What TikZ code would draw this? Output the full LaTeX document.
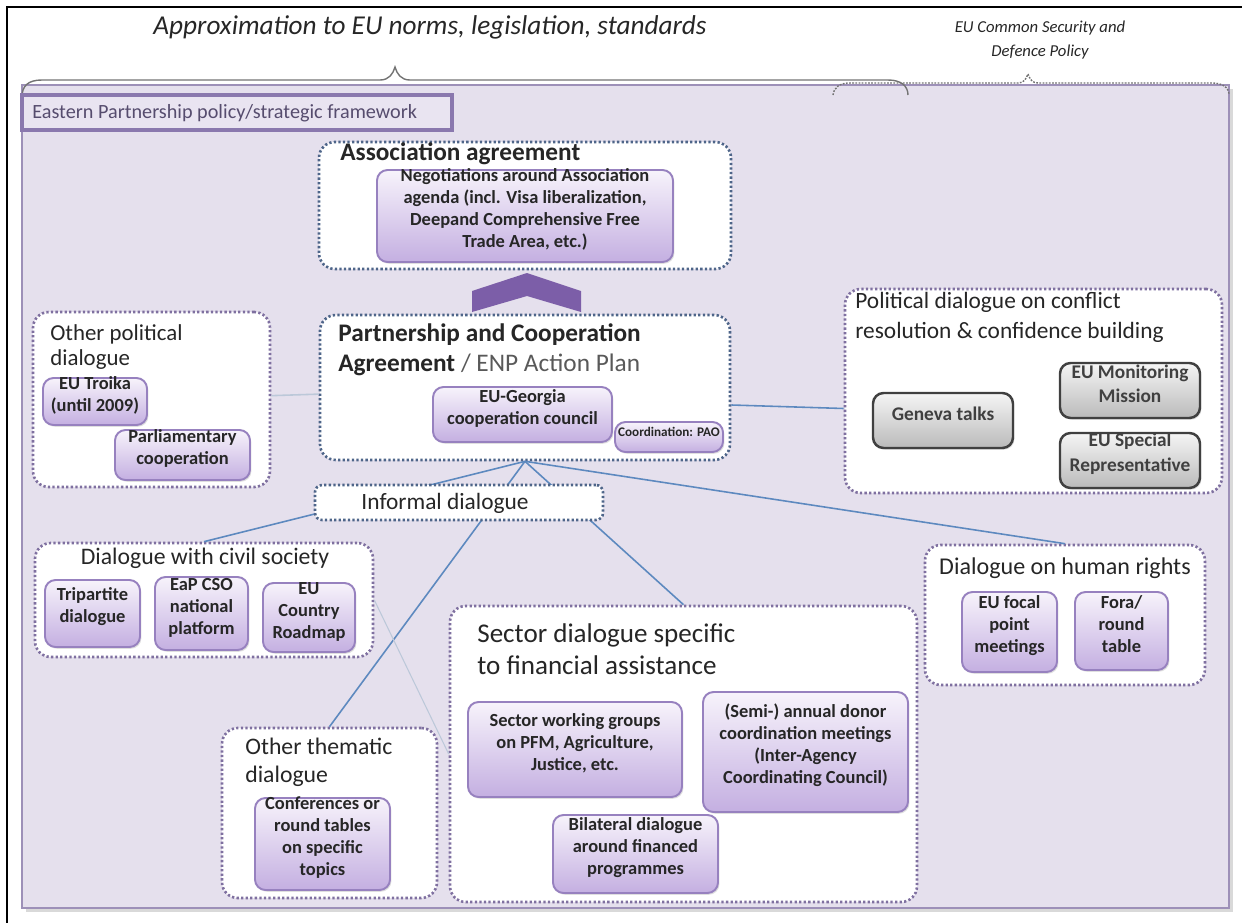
\documentclass[tikz,border=0pt]{standalone}
\usepackage{fontspec}
\setmainfont{Carlito}
\usetikzlibrary{fit,shadows}

\definecolor{panelfill}{HTML}{E5E0ED}
\definecolor{panelline}{HTML}{9D90B8}
\definecolor{framefill}{HTML}{E9E4F1}
\definecolor{frameline}{HTML}{8A78AE}
\definecolor{frametext}{HTML}{564C6E}
\definecolor{dotblue}{HTML}{4E6589}
\definecolor{dotpurple}{HTML}{7F70A0}
\definecolor{itemline}{HTML}{9781BF}
\definecolor{itemtop}{HTML}{F7F3FB}
\definecolor{itembot}{HTML}{C4AFE1}
\definecolor{chevfill}{HTML}{7C5EA8}
\definecolor{linkblue}{HTML}{5D89BF}
\definecolor{linkfaint}{HTML}{BCC8D9}
\definecolor{txt}{HTML}{262626}

\tikzset{
  group/.style={draw=dotpurple, line width=1.5pt, dash pattern=on 1.3pt off 1.3pt,
    rounded corners=9pt, fill=white, inner sep=0pt},
  groupblue/.style={group, draw=dotblue},
  gtitle/.style={text=txt, font=\fontsize{13.5}{16}\selectfont, align=left,
    anchor=west, inner sep=0pt},
  item/.style={draw=itemline, line width=1.1pt, rounded corners=6pt,
    top color=itemtop, bottom color=itembot, inner sep=0pt, align=center,
    text=txt, font=\fontsize{10.5}{12.5}\selectfont\bfseries,
    drop shadow={shadow xshift=0.8pt, shadow yshift=-1pt, opacity=0.25}},
  grayitem/.style={item, draw=black!75, line width=1.4pt, top color=black!4,
    bottom color=black!27, font=\fontsize{11}{14}\selectfont\bfseries, text=black!75},
  link/.style={draw=linkblue, line width=0.9pt},
  faintlink/.style={draw=linkfaint, line width=0.9pt},
  brace/.style={draw=black!55, line width=0.8pt},
  bracetext/.style={text=txt, font=\itshape, align=center, inner sep=0pt}
}

\begin{document}
\begin{tikzpicture}[x=0.02cm, y=-0.02cm]
\useasboundingbox (0,0) rectangle (1242,923);
\draw[black, line width=1pt] (7,923) -- (7,7) -- (1242,7);

% main panel
\node[fill=panelfill, draw=panelline, line width=1.2pt, inner sep=0pt,
  fit={(22,85) (1229,908)}, drop shadow={opacity=0.3}] (panel) {};

% braces on top
\draw[brace] (22,97) .. controls (22,86) and (28,80) .. (42,80) -- (380,80)
  .. controls (389,80) and (393,74) .. (395,67) .. controls (397,74) and (401,80) .. (410,80)
  -- (888,80) .. controls (901,80) and (908,86) .. (908,95);
\node[bracetext, font=\fontsize{15.5}{18}\selectfont\itshape] (approx) at (430,27)
  {Approximation to EU norms, legislation, standards};
\draw[brace, dash pattern=on 1pt off 0.8pt] (833,95) .. controls (834,87) and (840,83) .. (850,83)
  -- (1018,83) .. controls (1024,83) and (1026,79) .. (1028,74)
  .. controls (1030,79) and (1032,83) .. (1038,83) -- (1212,83)
  .. controls (1222,83) and (1229,87) .. (1229,95);
\node[bracetext, font=\fontsize{9.5}{14}\selectfont\itshape] (csdp) at (1040,40)
  {EU Common Security and\\Defence Policy};

\node[draw=frameline, line width=1.8pt, fill=framefill, inner sep=0pt,
  fit={(22,95) (452,130)}] (eap) {};
\node[gtitle, text=frametext, font=\fontsize{11.5}{14}\selectfont] (eap-t) at (32,113)
  {Eastern Partnership policy/strategic framework};

% association agreement
\node[groupblue, fit={(319,142) (731,269)}] (assoc) {};
\node[gtitle, font=\fontsize{14.4}{17}\selectfont\bfseries] (assoc-t) at (340,154) {Association agreement};
\node[item, fit={(377,170) (673,262)}] (nego) {Negotiations around Association\\agenda (incl. Visa liberalization,\\Deepand Comprehensive Free\\Trade Area, etc.)};

\fill[chevfill] (472,312) -- (472,291) -- (527,273) -- (581,291) -- (581,312) -- (527,296) -- cycle;

% PCA
\node[groupblue, fit={(320,315) (730,460)}] (pca) {};
\node[gtitle, font=\fontsize{14.4}{17}\selectfont] (pca-t) at (338,350)
  {\textbf{Partnership and Cooperation}\\\textbf{Agreement} {\color{black!65}/ ENP Action Plan}};
\node[item, fit={(433,387) (612,442)}] (council) {EU-Georgia\\cooperation council};
\node[item, fit={(615,422) (723,452)}, font=\fontsize{7.5}{8}\selectfont\bfseries] (pao) {Coordination: PAO};

% other political dialogue
\node[group, fit={(33,312) (270,487)}] (otherpol) {};
\node[gtitle, font=\fontsize{13}{14.5}\selectfont] (otherpol-t) at (50,347) {Other political\\dialogue};
\node[item, fit={(43,378) (147,425)}] (troika) {EU Troika\\(until 2009)};
\node[item, fit={(115,430) (250,480)}] (parl) {Parliamentary\\cooperation};

% conflict resolution
\node[group, fit={(845,289) (1222,493)}] (conflict) {};
\node[gtitle, font=\fontsize{13.3}{17}\selectfont] (conflict-t) at (855,317)
  {Political dialogue on conflict\\resolution \& confidence building};
\node[grayitem, fit={(873,393) (1013,448)}] (geneva) {Geneva talks};
\node[grayitem, fit={(1060,363) (1200,418)}] (eumm) {EU Monitoring\\Mission};
\node[grayitem, fit={(1060,433) (1200,488)}] (eusr) {EU Special\\Representative};

% civil society
\node[group, fit={(35,543) (373,657)}] (civil) {};
\node[gtitle, anchor=center] (civil-t) at (205,558) {Dialogue with civil society};
\node[item, fit={(45,580) (140,647)}] (tripart) {Tripartite\\dialogue};
\node[item, fit={(155,577) (248,650)}] (eapcso) {EaP CSO\\national\\platform};
\node[item, fit={(263,583) (355,652)}] (roadmap) {EU\\Country\\Roadmap};

% other thematic
\node[group, fit={(222,728) (437,898)}] (thematic) {};
\node[gtitle, font=\fontsize{13.5}{16}\selectfont] (thematic-t) at (245,762) {Other thematic\\dialogue};
\node[item, fit={(255,798) (390,890)}] (conf) {Conferences or\\round tables\\on specific\\topics};

% sector dialogue
\node[group, fit={(450,606) (917,902)}] (sector) {};
\node[gtitle, font=\fontsize{15.4}{18.5}\selectfont] (sector-t) at (477,649)
  {Sector dialogue specific\\to financial assistance};
\node[item, fit={(468,702) (682,797)}] (swg) {Sector working groups\\on PFM, Agriculture,\\Justice, etc.};
\node[item, fit={(703,692) (908,812)}] (donor) {(Semi-) annual donor\\coordination meetings\\(Inter-Agency\\Coordinating Council)};
\node[item, fit={(553,815) (718,893)}] (bilat) {Bilateral dialogue\\around financed\\programmes};

% human rights
\node[group, fit={(925,545) (1205,685)}] (rights) {};
\node[gtitle, anchor=center, font=\fontsize{13.7}{16}\selectfont] (rights-t) at (1065,568) {Dialogue on human rights};
\node[item, fit={(962,592) (1057,672)}] (focal) {EU focal\\point\\meetings};
\node[item, fit={(1075,592) (1168,670)}] (fora) {Fora/\\round\\table};

% links
\draw[faintlink] (otherpol) -- (pca);
\draw[link] ([yshift=-0.35cm]pca.east) -- ([yshift=-0.35cm]conflict.west);
\draw[link] (pca.south) -- (civil.north);
\draw[link] (pca.south) -- (thematic.north);
\draw[link] (pca.south) -- (sector.north);
\draw[link] (pca.south) -- (rights.north);
\draw[faintlink, line width=0.6pt] (civil.east) -- (sector.west);

% informal dialogue sits over the links
\node[groupblue, rounded corners=4pt, fit={(315,485) (603,520)}] (informal) {};
\node[gtitle, anchor=center, font=\fontsize{13.3}{14}\selectfont] (informal-t) at (445,503) {Informal dialogue};
\end{tikzpicture}
\end{document}
